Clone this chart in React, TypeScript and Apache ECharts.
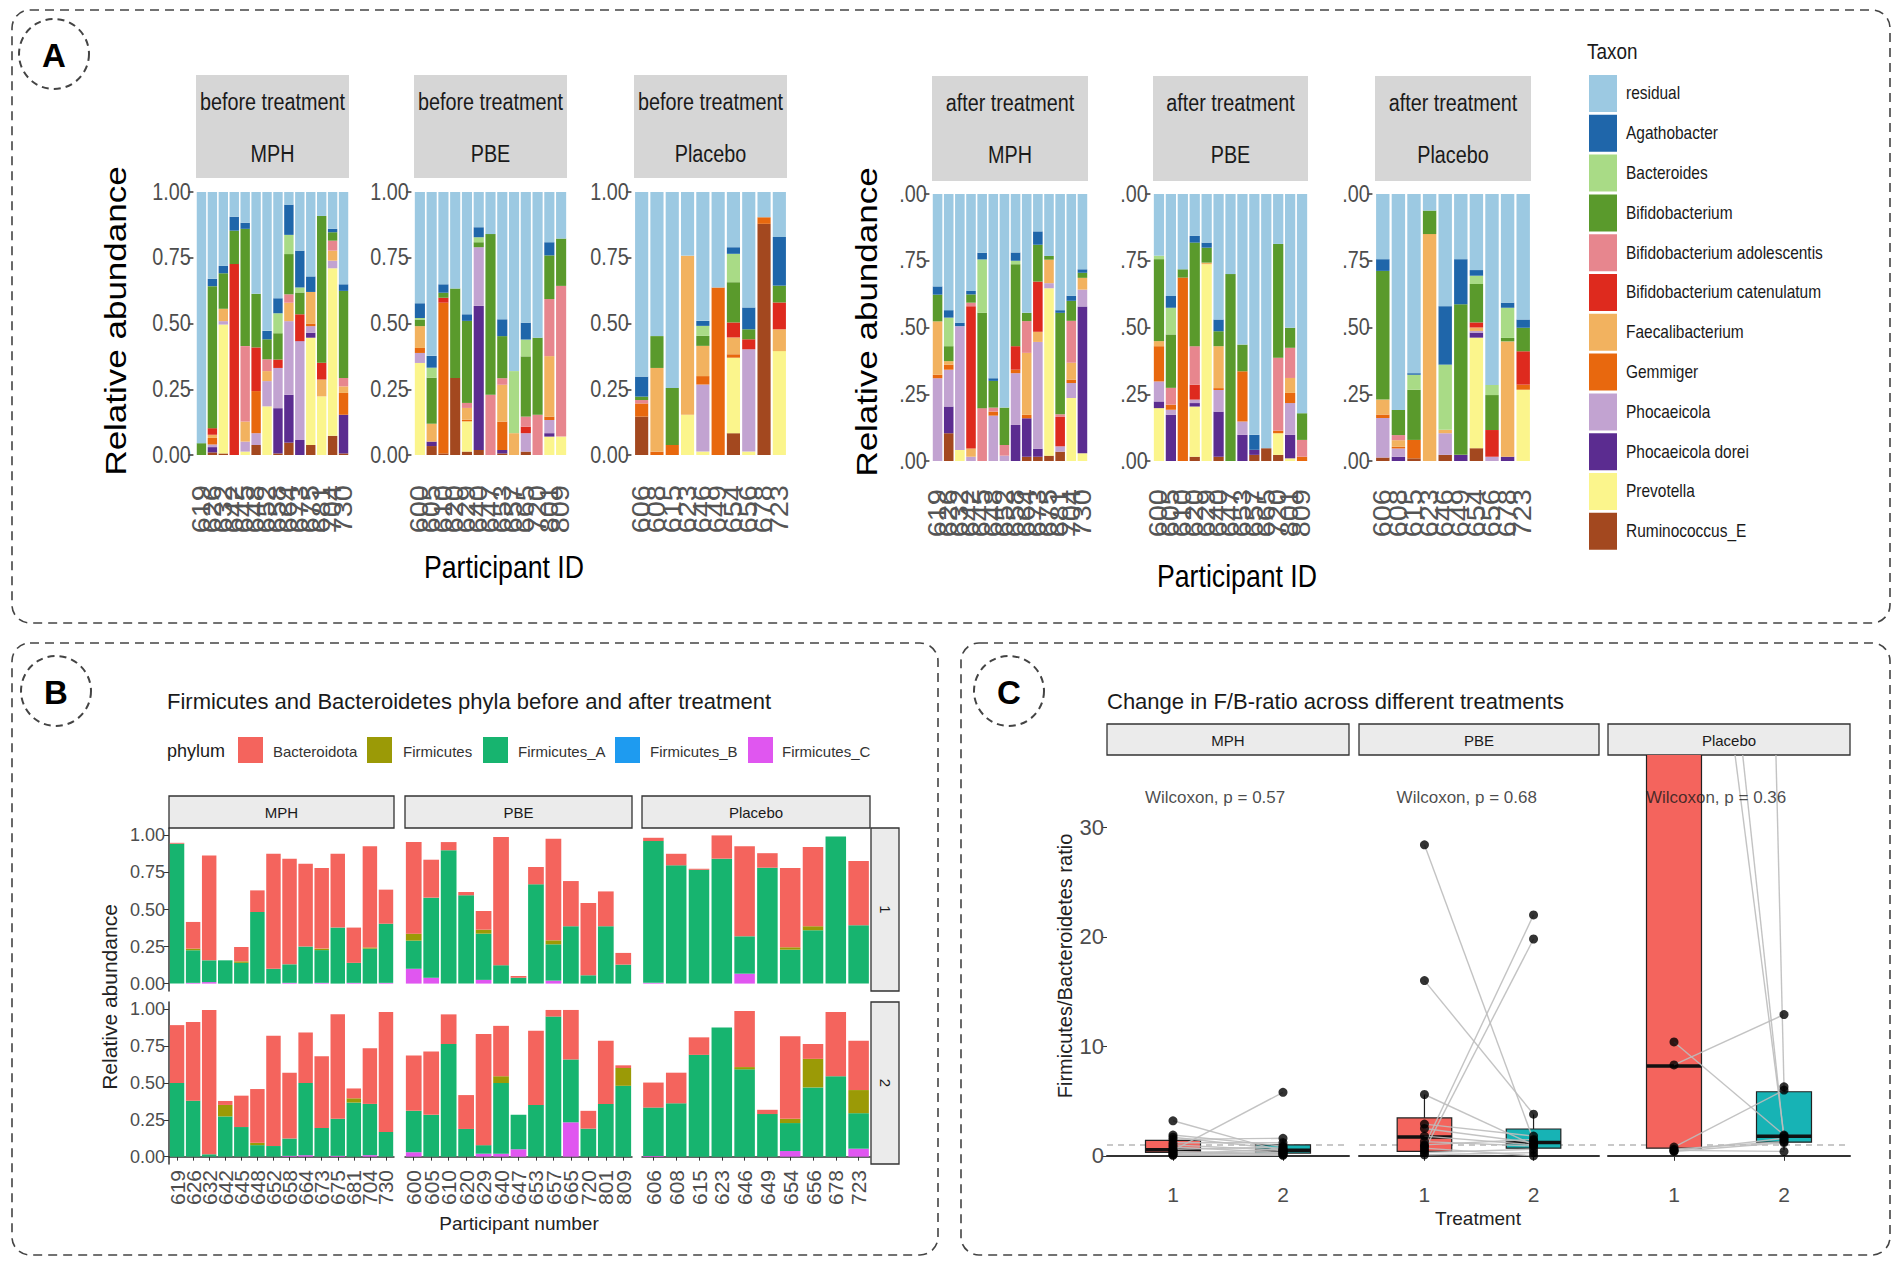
import React, { useEffect, useRef } from "react";
import * as echarts from "echarts";

const FONT = "'Liberation Sans', Arial, Helvetica, sans-serif";
const SA = 0.86; // horizontal squeeze of panel A

// ---------------- Panel A data ----------------
const MPH_IDS = ["619", "626", "632", "642", "645", "648", "652", "658", "664", "673", "675", "681", "704", "730"];
const PBE_IDS = ["600", "605", "610", "620", "629", "640", "647", "653", "657", "665", "720", "801", "809"];
const PLA_IDS = ["606", "608", "615", "623", "646", "649", "654", "656", "678", "723"];
const GROUPS = ["MPH", "PBE", "Placebo"];
const PHASES = ["before treatment", "after treatment"];

// stack order bottom -> top (residual = remainder on top)
const TAXA = [
  "Ruminococcus_E", "Prevotella", "Phocaeicola dorei", "Phocaeicola", "Gemmiger", "Faecalibacterium",
  "Bifidobacterium catenulatum", "Bifidobacterium adolescentis", "Bifidobacterium", "Bacteroides", "Agathobacter", "residual",
];
const TAXA_COLORS = [
  "#a3481f", "#fbf58c", "#5b2c90", "#c2a3d1", "#e8680e", "#f2b25f",
  "#de2a1e", "#e7868e", "#5a9a2c", "#a9db86", "#1f66aa", "#9cc9e2",
];

// each bar: [Rum, Prev, Dorei, Phoc, Gemm, Faec, Cat, Adol, Bifi, Bact, Agat]
const beforeMPH = [
  [0, 0, 0, 0, 0, 0, 0, 0, 0.045, 0, 0],
  [0.01, 0, 0.02, 0.01, 0.025, 0.012, 0.025, 0, 0.54, 0, 0.028],
  [0.006, 0.49, 0, 0.013, 0, 0.047, 0, 0, 0.135, 0, 0.028],
  [0, 0, 0, 0, 0, 0, 0.726, 0, 0.127, 0, 0.053],
  [0, 0.013, 0, 0.038, 0, 0.076, 0, 0.287, 0.446, 0, 0.023],
  [0.038, 0, 0, 0.045, 0.16, 0, 0.166, 0, 0.204, 0, 0],
  [0, 0.185, 0, 0.096, 0, 0.038, 0, 0.045, 0.076, 0, 0.032],
  [0.006, 0, 0.172, 0.153, 0, 0, 0.032, 0, 0.1, 0.076, 0.057],
  [0.047, 0, 0.182, 0.28, 0, 0.07, 0, 0.032, 0.153, 0.073, 0.115],
  [0, 0, 0.057, 0.376, 0, 0, 0.102, 0, 0.083, 0.019, 0.14],
  [0.038, 0.408, 0.019, 0.025, 0.01, 0.12, 0, 0, 0, 0, 0.059],
  [0, 0.223, 0, 0, 0, 0.064, 0.064, 0, 0.558, 0, 0],
  [0.073, 0.637, 0, 0.029, 0, 0.038, 0, 0.038, 0.032, 0, 0.013],
  [0.006, 0, 0.147, 0, 0.083, 0.025, 0, 0.032, 0.331, 0, 0.025],
];
const beforePBE = [
  [0, 0.35, 0, 0.038, 0.019, 0.083, 0, 0, 0.025, 0.006, 0.056],
  [0.034, 0, 0.017, 0, 0, 0.068, 0, 0, 0.175, 0.038, 0.045],
  [0.006, 0, 0, 0, 0.573, 0, 0.019, 0, 0.019, 0, 0.032],
  [0.293, 0, 0, 0, 0, 0, 0, 0, 0.34, 0, 0],
  [0.013, 0.115, 0, 0, 0.006, 0.045, 0, 0.019, 0.312, 0, 0.025],
  [0.019, 0, 0.548, 0.223, 0, 0, 0, 0, 0.019, 0.019, 0.038],
  [0, 0, 0, 0, 0, 0, 0, 0.229, 0.611, 0, 0],
  [0.006, 0, 0.013, 0, 0.108, 0.14, 0, 0.025, 0.16, 0, 0.064],
  [0, 0, 0, 0, 0, 0.083, 0, 0, 0, 0.236, 0],
  [0.013, 0, 0, 0.07, 0, 0, 0.025, 0.038, 0.229, 0.064, 0.064],
  [0, 0, 0, 0, 0, 0, 0, 0.153, 0.293, 0, 0],
  [0, 0.07, 0.013, 0.05, 0.013, 0.23, 0, 0.217, 0.166, 0, 0.05],
  [0, 0.07, 0, 0, 0, 0, 0, 0.573, 0.18, 0, 0],
];
const beforePlacebo = [
  [0.146, 0, 0, 0, 0.05, 0, 0, 0.013, 0.013, 0, 0.076],
  [0, 0, 0, 0, 0.013, 0.318, 0, 0, 0.121, 0, 0],
  [0, 0, 0, 0, 0.038, 0, 0, 0, 0.217, 0, 0],
  [0, 0.153, 0, 0, 0, 0.605, 0, 0, 0, 0, 0],
  [0, 0.013, 0, 0.255, 0.032, 0.115, 0, 0, 0.038, 0.038, 0.019],
  [0, 0, 0, 0, 0.637, 0, 0, 0, 0, 0, 0],
  [0.083, 0.287, 0, 0, 0.013, 0.064, 0.057, 0, 0.153, 0.108, 0.025],
  [0, 0.013, 0, 0.389, 0, 0, 0.038, 0, 0.038, 0, 0.083],
  [0.879, 0, 0, 0, 0.025, 0, 0, 0, 0, 0, 0],
  [0, 0.395, 0, 0, 0, 0.083, 0.102, 0, 0.064, 0, 0.185],
];
const afterMPH = [
  [0, 0, 0, 0.31, 0.013, 0.2, 0, 0, 0.1, 0, 0.031],
  [0.104, 0, 0.1, 0.138, 0.019, 0.013, 0, 0, 0.056, 0.107, 0.028],
  [0, 0.041, 0, 0.464, 0, 0, 0, 0, 0, 0, 0.013],
  [0, 0, 0, 0.016, 0, 0.031, 0.533, 0.013, 0.031, 0, 0.013],
  [0, 0, 0, 0, 0, 0, 0, 0.198, 0.357, 0.2, 0.025],
  [0, 0, 0, 0.17, 0.015, 0, 0, 0.015, 0.1, 0, 0.01],
  [0, 0, 0, 0.02, 0, 0, 0, 0.04, 0.14, 0, 0],
  [0, 0, 0.135, 0.194, 0.013, 0, 0.088, 0, 0.307, 0.013, 0.031],
  [0.016, 0, 0.144, 0, 0.013, 0.232, 0, 0.119, 0.031, 0, 0],
  [0.016, 0, 0.03, 0.4, 0, 0.038, 0.188, 0, 0.138, 0, 0.05],
  [0.02, 0.627, 0, 0.019, 0, 0.088, 0, 0, 0.014, 0, 0],
  [0.035, 0, 0, 0.02, 0, 0, 0.11, 0.01, 0.38, 0, 0.01],
  [0, 0.236, 0, 0.056, 0.013, 0.063, 0, 0.157, 0.075, 0, 0.019],
  [0, 0.029, 0.55, 0.063, 0, 0.044, 0, 0, 0.019, 0, 0.013],
];
const afterPBE = [
  [0, 0.198, 0.025, 0.075, 0.132, 0.019, 0, 0, 0.307, 0.013, 0],
  [0, 0, 0.173, 0.019, 0.019, 0, 0, 0.063, 0.2, 0.1, 0.044],
  [0, 0, 0, 0, 0.687, 0, 0, 0, 0.031, 0, 0],
  [0.016, 0.188, 0.013, 0.013, 0, 0, 0.056, 0.144, 0.388, 0, 0.025],
  [0, 0.737, 0, 0, 0, 0.006, 0, 0, 0.056, 0, 0.019],
  [0.016, 0, 0.169, 0.081, 0.007, 0.157, 0, 0, 0.056, 0, 0.044],
  [0, 0, 0, 0, 0, 0, 0, 0, 0.7, 0, 0],
  [0, 0, 0.098, 0.05, 0.188, 0, 0, 0, 0.1, 0, 0],
  [0.023, 0, 0.019, 0, 0, 0, 0, 0, 0, 0, 0.056],
  [0.048, 0, 0, 0, 0, 0, 0, 0, 0, 0, 0],
  [0.023, 0.081, 0, 0, 0.01, 0, 0, 0.273, 0.426, 0, 0],
  [0, 0.01, 0.088, 0.119, 0.038, 0.056, 0, 0.113, 0.075, 0, 0],
  [0, 0, 0, 0, 0.016, 0, 0, 0.063, 0.1, 0, 0],
];
const afterPlacebo = [
  [0.013, 0, 0, 0.148, 0.013, 0.056, 0, 0, 0.482, 0, 0.044],
  [0, 0, 0.016, 0.031, 0.006, 0.025, 0, 0.019, 0.094, 0, 0],
  [0.01, 0, 0, 0, 0.069, 0, 0, 0, 0.188, 0.056, 0.006],
  [0, 0, 0, 0, 0, 0.85, 0, 0, 0.088, 0, 0],
  [0.023, 0, 0, 0.081, 0, 0.013, 0, 0, 0, 0.244, 0.219],
  [0, 0, 0.023, 0, 0, 0, 0, 0, 0.564, 0, 0.169],
  [0.048, 0.414, 0.019, 0.006, 0, 0.013, 0.019, 0, 0.144, 0.031, 0.021],
  [0, 0, 0, 0.016, 0, 0, 0.1, 0, 0.131, 0.038, 0],
  [0, 0, 0.016, 0, 0, 0.432, 0, 0, 0.013, 0.113, 0.019],
  [0, 0.267, 0, 0, 0.019, 0, 0.125, 0, 0.088, 0, 0.031],
];

// ---------------- Panel B data ----------------
// stack order bottom -> top
const PHYLA = ["Firmicutes_C", "Firmicutes_B", "Firmicutes_A", "Firmicutes", "Bacteroidota"];
const PHYLA_COLORS = ["#e056f0", "#1e9bf0", "#17b46f", "#9b9a06", "#f4645d"];
const PHYLA_LEGEND = ["Bacteroidota", "Firmicutes", "Firmicutes_A", "Firmicutes_B", "Firmicutes_C"];
const TIMEPOINTS = ["1", "2"];
// each bar: [Firmicutes_C, Firmicutes_B, Firmicutes_A, Firmicutes, Bacteroidota]
const bMPH1 = [
  [0, 0, 0.944, 0, 0.006], [0.005, 0, 0.22, 0.011, 0.18], [0.01, 0, 0.147, 0, 0.708], [0, 0, 0.157, 0, 0],
  [0, 0, 0.14, 0.01, 0.097], [0, 0, 0.483, 0, 0.146], [0, 0, 0.1, 0, 0.776], [0.005, 0, 0.125, 0, 0.713],
  [0, 0, 0.25, 0, 0.559], [0.005, 0, 0.221, 0.01, 0.544], [0, 0, 0.378, 0, 0.498], [0.005, 0, 0.135, 0, 0.238],
  [0, 0, 0.236, 0.008, 0.682], [0.005, 0, 0.399, 0, 0.23],
];
const bPBE1 = [
  [0.1, 0, 0.19, 0.047, 0.618], [0.04, 0, 0.54, 0, 0.256], [0, 0, 0.9, 0, 0.055], [0, 0, 0.596, 0, 0.022],
  [0.025, 0, 0.312, 0.027, 0.126], [0, 0, 0.124, 0, 0.865], [0, 0, 0.04, 0, 0.012], [0, 0, 0.67, 0, 0.117],
  [0.02, 0, 0.245, 0.027, 0.686], [0, 0, 0.387, 0, 0.305], [0, 0, 0.056, 0, 0.488], [0, 0, 0.387, 0, 0.235],
  [0, 0, 0.128, 0, 0.079],
];
const bPla1 = [
  [0.005, 0, 0.957, 0, 0.022], [0, 0, 0.798, 0, 0.078], [0, 0, 0.768, 0, 0.007], [0, 0, 0.843, 0, 0.157],
  [0.067, 0, 0.252, 0, 0.607], [0, 0, 0.782, 0, 0.098], [0, 0, 0.229, 0.016, 0.535], [0, 0, 0.36, 0.027, 0.534],
  [0, 0, 0.993, 0, 0], [0, 0, 0.393, 0, 0.434],
];
const bMPH2 = [
  [0, 0, 0.5, 0, 0.393], [0, 0, 0.38, 0, 0.535], [0, 0, 0.016, 0, 0.98], [0, 0, 0.273, 0.078, 0.027],
  [0, 0, 0.201, 0, 0.213], [0, 0, 0.078, 0.016, 0.365], [0, 0, 0.072, 0, 0.749], [0.005, 0, 0.118, 0, 0.447],
  [0.01, 0, 0.49, 0, 0.343], [0, 0, 0.195, 0, 0.487], [0.005, 0, 0.252, 0, 0.709], [0, 0, 0.367, 0.029, 0.067],
  [0.01, 0, 0.348, 0, 0.378], [0, 0, 0.168, 0, 0.814],
];
const bPBE2 = [
  [0.03, 0, 0.281, 0, 0.376], [0, 0, 0.284, 0, 0.43], [0, 0, 0.765, 0, 0.201], [0, 0, 0.188, 0, 0.23],
  [0.02, 0, 0.058, 0, 0.754], [0.02, 0, 0.48, 0.046, 0.342], [0.05, 0, 0.234, 0, 0], [0, 0, 0.351, 0, 0.504],
  [0, 0, 0.951, 0, 0.045], [0.233, 0, 0.427, 0, 0.336], [0, 0, 0.19, 0, 0.121], [0, 0, 0.358, 0, 0.429],
  [0, 0, 0.481, 0.121, 0.018],
];
const bPla2 = [
  [0.005, 0, 0.328, 0, 0.17], [0, 0, 0.362, 0, 0.208], [0, 0, 0.691, 0, 0.119], [0, 0, 0.877, 0, 0],
  [0, 0, 0.593, 0.015, 0.381], [0, 0, 0.289, 0, 0.029], [0.038, 0, 0.19, 0.029, 0.56], [0, 0, 0.47, 0.194, 0.101],
  [0, 0, 0.546, 0, 0.436], [0.054, 0, 0.241, 0.157, 0.335],
];
const B_TICKS = [0, 0.25, 0.5, 0.75, 1];

// ---------------- Panel C data ----------------
// box stats per treatment: [low whisker, Q1, median, Q3, high whisker] for time 1 and 2
const boxMPH = [[0.1, 0.31, 0.55, 1.41, 1.93], [0.05, 0.25, 0.5, 1.0, 1.6]];
const boxPBE = [[0.1, 0.4, 1.71, 3.46, 5.6], [0.0, 0.7, 1.22, 2.45, 3.8]];
const boxPlacebo = [[0.4, 0.7, 8.2, 60, 60], [0.5, 1.25, 1.78, 5.85, 6.3]];
// paired F/B ratios per participant
const fbMPH1 = [3.2, 1.9, 1.7, 1.5, 1.2, 1.0, 0.8, 0.6, 0.5, 0.4, 0.3, 0.2, 0.1, 0.05];
const fbMPH2 = [0.4, 0.9, 0.6, 1.6, 1.2, 0.5, 0.3, 0.8, 5.8, 0.2, 0.1, 0.6, 0.3, 0.05];
const fbPBE1 = [28.4, 16.0, 5.6, 2.9, 2.5, 1.8, 1.3, 0.9, 0.5, 0.3, 0.1, 1.0, 0.7];
const fbPBE2 = [1.4, 3.8, 1.0, 1.8, 1.2, 1.0, 0.9, 22.0, 19.8, 0.6, 0.3, 1.5, 0.0];
const fbPla1 = [10.4, 8.3, 0.8, 0.6, 0.5, 0.4, 80, 95, 420, 0.45];
const fbPla2 = [1.9, 12.9, 6.0, 1.3, 0.4, 1.2, 1.8, 1.5, 6.3, 1.6];
const wilcoxonP = ["0.57", "0.68", "0.36"];
const C_YTICKS = [0, 10, 20, 30];
const C_XTICKS = [1, 2];
const REF_RATIO = 1;

// ---------------- Panel A option ----------------
function buildA() {
  const panels = [
    { ids: MPH_IDS, data: beforeMPH, x0: 196, x1: 349, y0: 192, y1: 455, s0: 75, s1: 178, ph: 0, g: 0 },
    { ids: PBE_IDS, data: beforePBE, x0: 414, x1: 567, y0: 192, y1: 455, s0: 75, s1: 178, ph: 0, g: 1 },
    { ids: PLA_IDS, data: beforePlacebo, x0: 634, x1: 787, y0: 192, y1: 455, s0: 75, s1: 178, ph: 0, g: 2 },
    { ids: MPH_IDS, data: afterMPH, x0: 932, x1: 1088, y0: 194, y1: 461, s0: 76, s1: 181, ph: 1, g: 0 },
    { ids: PBE_IDS, data: afterPBE, x0: 1153, x1: 1308, y0: 194, y1: 461, s0: 76, s1: 181, ph: 1, g: 1 },
    { ids: PLA_IDS, data: afterPlacebo, x0: 1375, x1: 1531, y0: 194, y1: 461, s0: 76, s1: 181, ph: 1, g: 2 },
  ];
  const grid: any[] = [], xAxis: any[] = [], yAxis: any[] = [], series: any[] = [], graphic: any[] = [];
  panels.forEach((p, i) => {
    grid.push({ left: p.x0 / SA, top: p.y0, width: (p.x1 - p.x0) / SA, height: p.y1 - p.y0 });
    xAxis.push({
      type: "category", gridIndex: i, data: p.ids,
      axisLine: { show: false }, axisTick: { show: false },
      axisLabel: { rotate: 90, interval: 0, fontSize: 29, color: "#555", margin: p.ph ? 28 : 30, fontFamily: FONT },
    });
    yAxis.push({
      type: "value", gridIndex: i, min: 0, max: 1, interval: 0.25, offset: 3,
      axisLine: { show: false }, splitLine: { show: false },
      axisTick: { show: true, length: 6, lineStyle: { color: "#333", width: 1.5 } },
      axisLabel: {
        fontSize: 23, color: "#4d4d4d", margin: 3, fontFamily: FONT,
        formatter: (v: number) => (p.ph ? v.toFixed(2).slice(1) : v.toFixed(2)),
      },
    });
    TAXA.forEach((t, k) => {
      series.push({
        type: "bar", name: t, xAxisIndex: i, yAxisIndex: i, stack: "a" + i, silent: true,
        barCategoryGap: "14%",
        itemStyle: { color: TAXA_COLORS[k] },
        data: p.data.map((b) => (k < 11 ? b[k] : Math.max(0, 1 - b.reduce((s, c) => s + c, 0)))),
      });
    });
    // strips
    graphic.push({
      type: "rect", shape: { x: p.x0 / SA, y: p.s0, width: (p.x1 - p.x0) / SA, height: p.s1 - p.s0 },
      style: { fill: "#d6d6d6" },
    });
    graphic.push({
      type: "text", x: (p.x0 + p.x1) / 2 / SA, y: p.s0 + 27,
      style: { text: PHASES[p.ph], fontSize: 23, fill: "#1a1a1a", align: "center", verticalAlign: "middle", fontFamily: FONT },
    });
    graphic.push({
      type: "text", x: (p.x0 + p.x1) / 2 / SA, y: p.s0 + 79,
      style: { text: GROUPS[p.g], fontSize: 23, fill: "#1a1a1a", align: "center", verticalAlign: "middle", fontFamily: FONT },
    });
  });
  // axis titles
  [[115, 321], [866, 322]].forEach(([x, y]) => {
    graphic.push({
      type: "text", x: x / SA, y, rotation: Math.PI / 2,
      style: { text: "Relative abundance", fontSize: 35, fill: "#000", align: "center", verticalAlign: "middle", fontFamily: FONT },
    });
  });
  [[504, 567], [1237, 576]].forEach(([x, y]) => {
    graphic.push({
      type: "text", x: x / SA, y,
      style: { text: "Participant ID", fontSize: 31, fill: "#000", align: "center", verticalAlign: "middle", fontFamily: FONT },
    });
  });
  // legend
  graphic.push({
    type: "text", x: 1587 / SA, y: 51,
    style: { text: "Taxon", fontSize: 22, fill: "#1a1a1a", align: "left", verticalAlign: "middle", fontFamily: FONT },
  });
  for (let k = 0; k < TAXA.length; k++) {
    const idx = TAXA.length - 1 - k;
    const y = 75 + k * 39.8;
    graphic.push({ type: "rect", shape: { x: 1589 / SA, y, width: 28 / SA, height: 37 }, style: { fill: TAXA_COLORS[idx] } });
    graphic.push({
      type: "text", x: 1626 / SA, y: y + 18.5,
      style: { text: TAXA[idx], fontSize: 18, fill: "#1a1a1a", align: "left", verticalAlign: "middle", fontFamily: FONT },
    });
  }
  return { animation: false, backgroundColor: "transparent", grid, xAxis, yAxis, series, graphic };
}

// ---------------- Panels B + C option ----------------
function buildBC() {
  const grid: any[] = [], xAxis: any[] = [], yAxis: any[] = [], series: any[] = [], graphic: any[] = [];
  const dash = { fill: "none", stroke: "#444", lineWidth: 1.6, lineDash: [9, 6] };
  graphic.push({ type: "rect", shape: { x: 12, y: 10, width: 1878, height: 613, r: 18 }, style: dash });
  graphic.push({ type: "rect", shape: { x: 12, y: 643, width: 926, height: 612, r: 18 }, style: dash });
  graphic.push({ type: "rect", shape: { x: 961, y: 643, width: 929, height: 612, r: 18 }, style: dash });
  [["A", 54, 54], ["B", 56, 691], ["C", 1009, 691]].forEach(([t, cx, cy]: any) => {
    graphic.push({ type: "circle", shape: { cx, cy, r: 35 }, style: { fill: "none", stroke: "#444", lineWidth: 2, lineDash: [7, 5] } });
    graphic.push({
      type: "text", x: cx, y: cy + 1,
      style: { text: t, fontSize: 33, fontWeight: "bold", fill: "#000", align: "center", verticalAlign: "middle", fontFamily: FONT },
    });
  });

  // ----- B -----
  const cols = [[169, 394], [405, 632], [642, 870]];
  const rows = [[828, 991], [1002, 1164]];
  const bData = [[bMPH1, bPBE1, bPla1], [bMPH2, bPBE2, bPla2]];
  const idsList = [MPH_IDS, PBE_IDS, PLA_IDS];
  let gi = 0;
  rows.forEach((r, ri) => {
    cols.forEach((c, ci) => {
      grid.push({ left: c[0], top: r[0], width: c[1] - c[0], height: r[1] - r[0] });
      xAxis.push({
        type: "category", gridIndex: gi, data: idsList[ci],
        axisLine: { show: ri === 1, lineStyle: { color: "#333", width: 1.5 } },
        axisTick: { show: ri === 1, length: 4, alignWithLabel: true, lineStyle: { color: "#333" } },
        axisLabel: { show: ri === 1, rotate: 90, interval: 0, fontSize: 21, color: "#4d4d4d", margin: 6, fontFamily: FONT },
      });
      yAxis.push({
        type: "value", gridIndex: gi, min: -0.05, max: 1.05,
        splitLine: { show: false },
        axisLine: { show: ci === 0, lineStyle: { color: "#333", width: 1.5 } },
        axisTick: { show: ci === 0, length: 5, customValues: B_TICKS, lineStyle: { color: "#333" } },
        axisLabel: {
          show: ci === 0, customValues: B_TICKS, fontSize: 18, color: "#4d4d4d", margin: 4, fontFamily: FONT,
          formatter: (v: number) => v.toFixed(2),
        },
      });
      PHYLA.forEach((ph, k) => {
        series.push({
          type: "bar", name: ph, xAxisIndex: gi, yAxisIndex: gi, stack: "b" + gi, silent: true,
          barCategoryGap: "10%", itemStyle: { color: PHYLA_COLORS[k] },
          data: bData[ri][ci].map((b) => b[k]),
        });
      });
      gi++;
    });
  });
  // B strips
  cols.forEach((c, ci) => {
    graphic.push({ type: "rect", shape: { x: c[0], y: 796, width: c[1] - c[0], height: 32 }, style: { fill: "#ebebeb", stroke: "#333", lineWidth: 1.3 } });
    graphic.push({
      type: "text", x: (c[0] + c[1]) / 2, y: 812,
      style: { text: GROUPS[ci], fontSize: 15, fill: "#1a1a1a", align: "center", verticalAlign: "middle", fontFamily: FONT },
    });
  });
  rows.forEach((r, ri) => {
    graphic.push({ type: "rect", shape: { x: 871, y: r[0], width: 28, height: r[1] - r[0] }, style: { fill: "#ebebeb", stroke: "#333", lineWidth: 1.3 } });
    graphic.push({
      type: "text", x: 885, y: (r[0] + r[1]) / 2, rotation: -Math.PI / 2,
      style: { text: TIMEPOINTS[ri], fontSize: 15, fill: "#1a1a1a", align: "center", verticalAlign: "middle", fontFamily: FONT },
    });
  });
  graphic.push({
    type: "text", x: 167, y: 701,
    style: { text: "Firmicutes and Bacteroidetes phyla before and after treatment", fontSize: 22, fill: "#1a1a1a", align: "left", verticalAlign: "middle", fontFamily: FONT },
  });
  graphic.push({
    type: "text", x: 167, y: 751,
    style: { text: "phylum", fontSize: 18, fill: "#1a1a1a", align: "left", verticalAlign: "middle", fontFamily: FONT },
  });
  const keyX = [238, 367, 483, 615, 748];
  const txtX = [273, 403, 518, 650, 782];
  PHYLA_LEGEND.forEach((ph, k) => {
    const ci = PHYLA.indexOf(ph);
    graphic.push({ type: "rect", shape: { x: keyX[k], y: 737, width: 25, height: 26 }, style: { fill: PHYLA_COLORS[ci] } });
    graphic.push({
      type: "text", x: txtX[k], y: 751,
      style: { text: ph, fontSize: 15, fill: "#333", align: "left", verticalAlign: "middle", fontFamily: FONT },
    });
  });
  graphic.push({
    type: "text", x: 109, y: 997, rotation: Math.PI / 2,
    style: { text: "Relative abundance", fontSize: 21, fill: "#222", align: "center", verticalAlign: "middle", fontFamily: FONT },
  });
  graphic.push({
    type: "text", x: 519, y: 1223,
    style: { text: "Participant number", fontSize: 19, fill: "#222", align: "center", verticalAlign: "middle", fontFamily: FONT },
  });

  // ----- C -----
  const cCols = [[1107, 1349], [1359, 1599], [1608, 1850]];
  const boxes = [boxMPH, boxPBE, boxPlacebo];
  const pairs = [[fbMPH1, fbMPH2], [fbPBE1, fbPBE2], [fbPla1, fbPla2]];
  const boxColors = ["#f4645d", "#17b3b5"];
  cCols.forEach((c, ci) => {
    const g = gi;
    grid.push({ left: c[0], top: 755, width: c[1] - c[0], height: 420 });
    xAxis.push({
      type: "value", gridIndex: g, min: 0.4, max: 2.6, splitLine: { show: false },
      axisLine: { show: true, lineStyle: { color: "#333", width: 2 } },
      axisTick: { show: true, length: 5, customValues: C_XTICKS, lineStyle: { color: "#333" } },
      axisLabel: { customValues: C_XTICKS, fontSize: 21, color: "#4d4d4d", margin: 9, fontFamily: FONT },
    });
    yAxis.push({
      type: "value", gridIndex: g, min: -1.75, max: 36.6, splitLine: { show: false },
      axisLine: { show: false },
      axisTick: { show: ci === 0, length: 5, customValues: C_YTICKS, lineStyle: { color: "#333" } },
      axisLabel: { show: ci === 0, customValues: C_YTICKS, fontSize: 22, color: "#4d4d4d", margin: 3, fontFamily: FONT },
    });
    series.push({
      type: "line", xAxisIndex: g, yAxisIndex: g, symbol: "none", silent: true, z: 1,
      lineStyle: { color: "#c8c8c8", width: 2, type: [6, 5] },
      data: [[0.4, REF_RATIO], [2.6, REF_RATIO]],
    });
    series.push({
      type: "custom", xAxisIndex: g, yAxisIndex: g, clip: true, silent: true, z: 2,
      encode: { x: 0, y: [1, 2, 3, 4, 5] },
      data: boxes[ci].map((b, k) => [C_XTICKS[k], ...b]),
      renderItem: (params: any, api: any) => {
        const x = api.value(0);
        const lo = api.value(1), q1 = api.value(2), med = api.value(3), q3 = api.value(4), hi = api.value(5);
        const hw = 0.25;
        const tl = api.coord([x - hw, q3]);
        const br = api.coord([x + hw, q1]);
        const pLo = api.coord([x, lo]), pHi = api.coord([x, hi]);
        const pQ1 = api.coord([x, q1]), pQ3 = api.coord([x, q3]);
        const m1 = api.coord([x - hw, med]), m2 = api.coord([x + hw, med]);
        const ws = { stroke: "#222", lineWidth: 1.2 };
        return {
          type: "group",
          children: [
            { type: "line", shape: { x1: pHi[0], y1: pHi[1], x2: pQ3[0], y2: pQ3[1] }, style: ws },
            { type: "line", shape: { x1: pLo[0], y1: pLo[1], x2: pQ1[0], y2: pQ1[1] }, style: ws },
            { type: "rect", shape: { x: tl[0], y: tl[1], width: br[0] - tl[0], height: br[1] - tl[1] }, style: { fill: boxColors[params.dataIndex], stroke: "#222", lineWidth: 1.2 } },
            { type: "line", shape: { x1: m1[0], y1: m1[1], x2: m2[0], y2: m2[1] }, style: { stroke: "#111", lineWidth: 3.5 } },
          ],
        };
      },
    });
    const [p1, p2] = pairs[ci];
    series.push({
      type: "custom", xAxisIndex: g, yAxisIndex: g, clip: true, silent: true, z: 3,
      encode: { x: [0, 2], y: [1, 3] },
      data: p1.map((v, i) => [C_XTICKS[0], v, C_XTICKS[1], p2[i]]),
      renderItem: (params: any, api: any) => {
        const a = api.coord([api.value(0), api.value(1)]);
        const b = api.coord([api.value(2), api.value(3)]);
        return { type: "line", shape: { x1: a[0], y1: a[1], x2: b[0], y2: b[1] }, style: { stroke: "#bdbdbd", lineWidth: 1.4, opacity: 0.9 } };
      },
    });
    series.push({
      type: "scatter", xAxisIndex: g, yAxisIndex: g, silent: true, z: 4, symbolSize: 9,
      itemStyle: { color: "#000" },
      data: [...p1.map((v) => [C_XTICKS[0], v]), ...p2.map((v) => [C_XTICKS[1], v])],
    });
    series.push({
      type: "scatter", xAxisIndex: g, yAxisIndex: g, silent: true, z: 5, symbolSize: 1,
      itemStyle: { color: "transparent" },
      label: {
        show: true, position: "right", distance: 0, formatter: "Wilcoxon, p = " + wilcoxonP[ci],
        fontSize: 17, color: "#1a1a1a", fontFamily: FONT,
      },
      data: [[0.74, 32.7]],
    });
    graphic.push({ type: "rect", shape: { x: c[0], y: 724, width: c[1] - c[0], height: 31 }, style: { fill: "#ebebeb", stroke: "#333", lineWidth: 1.3 } });
    graphic.push({
      type: "text", x: (c[0] + c[1]) / 2, y: 740,
      style: { text: GROUPS[ci], fontSize: 15, fill: "#1a1a1a", align: "center", verticalAlign: "middle", fontFamily: FONT },
    });
    gi++;
  });
  graphic.push({
    type: "text", x: 1107, y: 701,
    style: { text: "Change in F/B-ratio across different treatments", fontSize: 22, fill: "#1a1a1a", align: "left", verticalAlign: "middle", fontFamily: FONT },
  });
  graphic.push({
    type: "text", x: 1065, y: 966, rotation: Math.PI / 2,
    style: { text: "Firmicutes/Bacteroidetes ratio", fontSize: 20, fill: "#222", align: "center", verticalAlign: "middle", fontFamily: FONT },
  });
  graphic.push({
    type: "text", x: 1478, y: 1218,
    style: { text: "Treatment", fontSize: 19, fill: "#222", align: "center", verticalAlign: "middle", fontFamily: FONT },
  });
  return { animation: false, backgroundColor: "#fff", grid, xAxis, yAxis, series, graphic };
}

export default function App() {
  const refA = useRef<HTMLDivElement>(null);
  const refBC = useRef<HTMLDivElement>(null);
  useEffect(() => {
    const cBC = echarts.init(refBC.current as HTMLDivElement, undefined, { renderer: "svg" });
    cBC.setOption(buildBC() as any);
    const cA = echarts.init(refA.current as HTMLDivElement, undefined, { renderer: "svg" });
    cA.setOption(buildA() as any);
    return () => {
      cA.dispose();
      cBC.dispose();
    };
  }, []);
  return (
    <div style={{ position: "absolute", left: 0, top: 0, width: 1902, height: 1267, overflow: "hidden", background: "#fff" }}>
      <div ref={refBC} style={{ position: "absolute", left: 0, top: 0, width: 1902, height: 1267 }} />
      <div
        ref={refA}
        style={{ position: "absolute", left: 0, top: 0, width: 1902 / SA, height: 640, transform: `scaleX(${SA})`, transformOrigin: "0 0" }}
      />
    </div>
  );
}
